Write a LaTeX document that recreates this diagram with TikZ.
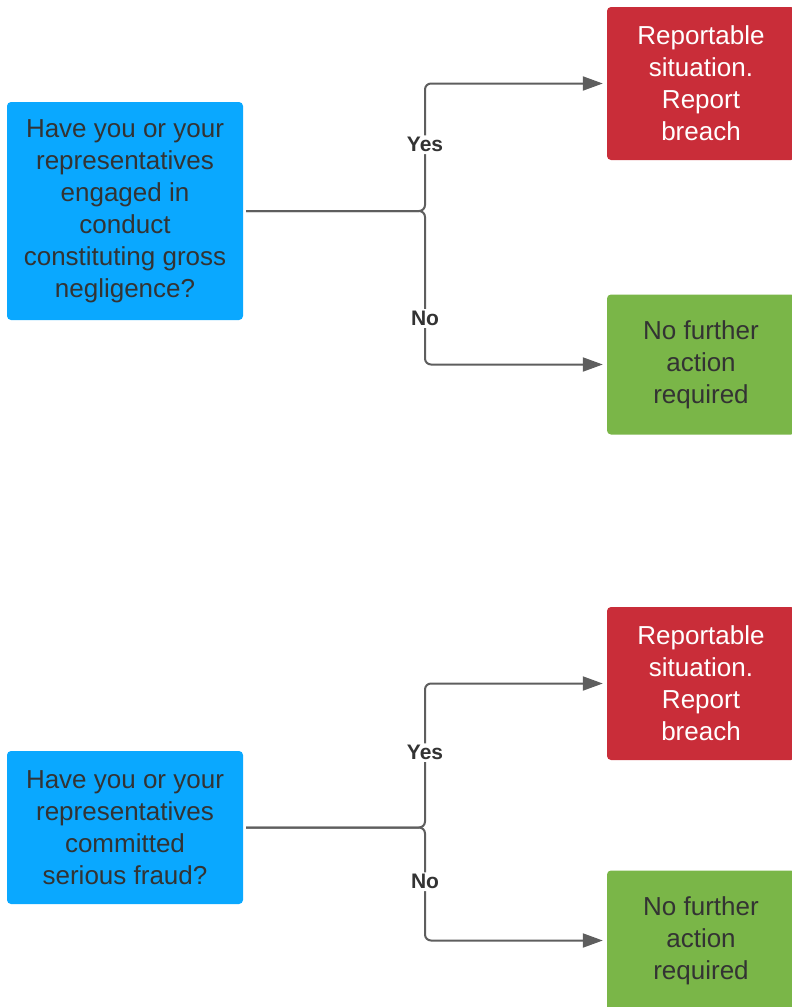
\documentclass[tikz,border=0pt]{standalone}
\usepackage{fontspec}
\setmainfont{Liberation Sans}
\usetikzlibrary{arrows.meta}
\definecolor{qblue}{HTML}{0AA8FF}
\definecolor{yesred}{HTML}{C92D39}
\definecolor{nogreen}{HTML}{7AB648}
\definecolor{linegray}{HTML}{5E5E5E}
\definecolor{txtgray}{HTML}{333333}
\tikzset{
 box/.style={rounded corners=4pt, align=center, inner sep=0pt, font=\fontsize{26}{32}\selectfont},
 qbox/.style={box, fill=qblue, text=txtgray, minimum width=236pt},
 yesbox/.style={box, fill=yesred, text=white, minimum width=188pt, minimum height=153pt},
 nobox/.style={box, fill=nogreen, text=txtgray, minimum width=188pt, minimum height=140pt},
 conn/.style={draw=linegray, line width=2pt, rounded corners=6pt, -{Triangle[length=20pt,width=14pt]}, shorten >=4pt, shorten <=3pt},
 lbl/.style={fill=white, text=txtgray, inner sep=2pt, font=\bfseries\fontsize{21}{24}\selectfont}
}
\begin{document}
\begin{tikzpicture}[x=1pt,y=-1pt]
 \useasboundingbox (0,0) rectangle (792,1007);
 % first question
 \node[qbox, minimum height=218pt] (q1) at (125,211) {Have you or your\\representatives\\engaged in\\conduct\\constituting gross\\negligence?};
 \node[yesbox] (r1) at (701,83.5) {Reportable\\situation.\\Report\\breach};
 \node[nobox] (g1) at (701,364.5) {No further\\action\\required};
 \coordinate (s1) at (425,211);
 \draw[conn] (q1.east) -- (s1) |- node[lbl, pos=0.26] {Yes} (r1.west);
 \draw[conn] (q1.east) -- (s1) |- node[lbl, pos=0.35] {No} (g1.west);
 % second question
 \node[qbox, minimum height=153pt] (q2) at (125,827.5) {Have you or your\\representatives\\committed\\serious fraud?};
 \node[yesbox] (r2) at (701,683.5) {Reportable\\situation.\\Report\\breach};
 \node[nobox] (g2) at (701,940.5) {No further\\action\\required};
 \coordinate (s2) at (425,827.5);
 \draw[conn] (q2.east) -- (s2) |- node[lbl, pos=0.26] {Yes} (r2.west);
 \draw[conn] (q2.east) -- (s2) |- node[lbl, pos=0.24] {No} (g2.west);
\end{tikzpicture}
\end{document}
